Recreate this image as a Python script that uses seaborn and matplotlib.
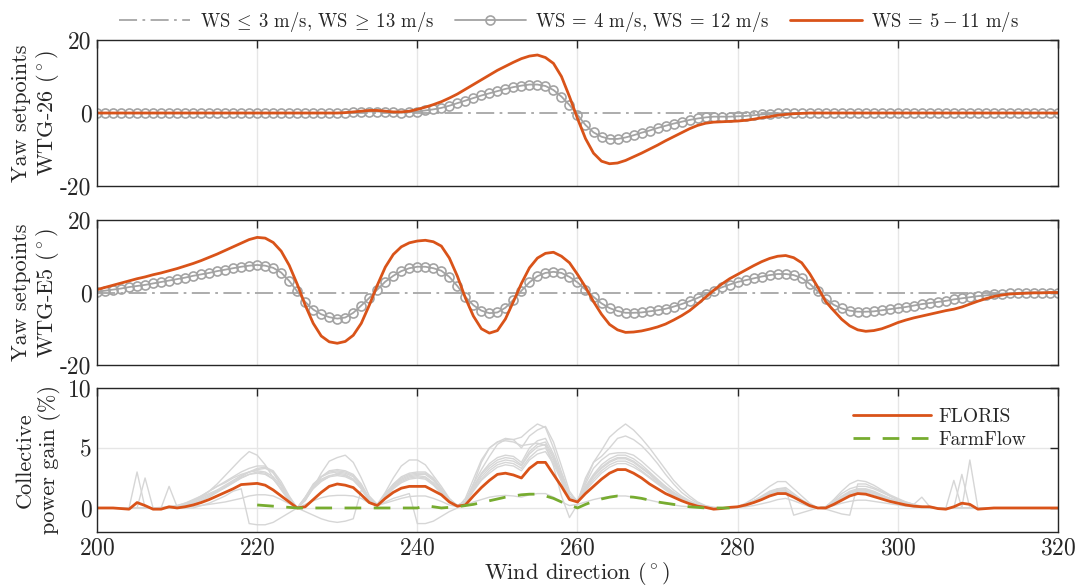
import matplotlib
matplotlib.use("Agg")
import matplotlib.pyplot as plt
import seaborn as sns

# Wind directions (deg), one value per degree
wind_dir = list(range(200, 321))

# Yaw setpoints WTG-26 (deg)
yaw26_off = [0.0] * len(wind_dir)
yaw26_low = [
    0, 0, 0, 0, 0, 0, 0, 0, 0, 0, 0,
    0, 0, 0, 0, 0, 0, 0, 0, 0, 0, 0,
    0, 0, 0, 0, 0, 0, 0, 0, 0, 0.1, 0.2,
    0.3, 0.4, 0.4, 0.3, 0.2, 0.1, 0.2, 0.4, 0.7, 1.0, 1.4,
    2.0, 2.7, 3.4, 4.1, 4.8, 5.4, 6.0, 6.6, 7.1, 7.5, 7.8,
    7.8, 7.4, 6.3, 4.5, 2.2, -0.5, -3.3, -5.3, -6.5, -7.1, -7.1,
    -6.7, -6.1, -5.4, -4.8, -4.1, -3.5, -2.9, -2.4, -1.9, -1.5, -1.2,
    -1.0, -1.0, -1.0, -0.9, -0.8, -0.6, -0.4, -0.3, -0.1, 0, 0,
    0, 0, 0, 0, 0, 0, 0, 0, 0, 0, 0,
    0, 0, 0, 0, 0, 0, 0, 0, 0, 0, 0,
    0, 0, 0, 0, 0, 0, 0, 0, 0, 0, 0,
]
yaw26_mid = [
    0, 0, 0, 0, 0, 0, 0, 0, 0, 0, 0,
    0, 0, 0, 0, 0, 0, 0, 0, 0, 0, 0,
    0, 0, 0, 0, 0, 0, 0, 0, 0, 0.1, 0.3,
    0.5, 0.7, 0.7, 0.5, 0.3, 0.3, 0.5, 1.0, 1.6, 2.3, 3.1,
    4.1, 5.2, 6.5, 7.8, 9.1, 10.4, 11.7, 12.8, 13.9, 14.9, 15.6,
    15.9, 15.2, 13.6, 10.0, 4.5, -1.5, -7.0, -11.0, -13.2, -13.9, -13.7,
    -13.0, -12.0, -11.0, -9.9, -8.8, -7.6, -6.5, -5.4, -4.3, -3.4, -2.8,
    -2.5, -2.4, -2.3, -2.2, -2.0, -1.7, -1.3, -1.0, -0.6, -0.4, -0.2,
    -0.1, 0, 0, 0, 0, 0, 0, 0, 0, 0, 0,
    0, 0, 0, 0, 0, 0, 0, 0, 0, 0, 0,
    0, 0, 0, 0, 0, 0, 0, 0, 0, 0, 0,
]

# Yaw setpoints WTG-E5 (deg)
yawE5_off = [0.0] * len(wind_dir)
yawE5_low = [
    0.2, 0.5, 0.8, 1.1, 1.5, 1.8, 2.1, 2.5, 2.9, 3.3, 3.7,
    4.1, 4.6, 5.0, 5.4, 5.9, 6.3, 6.7, 7.1, 7.4, 7.6, 7.4,
    6.8, 5.5, 3.2, 0.3, -2.6, -4.7, -6.0, -6.8, -7.2, -6.9, -5.6,
    -3.6, -1.5, 0.8, 3.0, 4.6, 5.9, 6.7, 7.1, 7.1, 6.7, 6.0,
    4.3, 1.8, -1.2, -3.5, -5.0, -5.7, -5.5, -4.2, -2.0, 0.5, 2.8,
    4.5, 5.4, 5.7, 5.4, 4.3, 2.8, 0.8, -1.2, -3.0, -4.3, -5.1,
    -5.6, -5.6, -5.5, -5.2, -4.9, -4.5, -3.9, -3.2, -2.4, -1.5, -0.5,
    0.5, 1.4, 2.2, 2.9, 3.4, 3.9, 4.4, 4.8, 5.1, 5.1, 4.8,
    4.0, 2.4, 0.3, -1.8, -3.4, -4.4, -5.0, -5.3, -5.3, -5.2, -4.9,
    -4.6, -4.3, -4.0, -3.6, -3.2, -2.9, -2.6, -2.3, -1.9, -1.6, -1.3,
    -1.0, -0.8, -0.5, -0.3, -0.2, -0.1, 0, 0, 0, 0, 0,
]
yawE5_mid = [
    0.8, 1.4, 2.0, 2.6, 3.2, 3.8, 4.3, 4.9, 5.4, 6.0, 6.6,
    7.3, 8.0, 8.8, 9.7, 10.6, 11.6, 12.6, 13.6, 14.6, 15.2, 15.0,
    13.8, 11.4, 7.5, 2.3, -3.5, -8.5, -12.0, -13.6, -14.0, -13.5, -11.8,
    -8.5, -3.5, 2.0, 7.0, 10.5, 12.6, 13.7, 14.2, 14.4, 14.0, 12.8,
    9.5, 4.5, -1.5, -6.5, -10.0, -11.2, -10.5, -7.3, -2.5, 2.5, 6.8,
    9.5, 10.8, 11.1, 10.0, 8.2, 5.0, 1.5, -2.5, -6.0, -8.8, -10.3,
    -11.0, -10.9, -10.6, -10.1, -9.5, -8.7, -7.6, -6.4, -5.0, -3.2, -1.3,
    0.6, 2.3, 3.8, 5.0, 6.2, 7.4, 8.5, 9.4, 10.0, 10.2, 9.6,
    8.2, 5.2, 1.5, -2.5, -5.0, -7.4, -9.2, -10.3, -10.7, -10.5, -10.0,
    -9.2, -8.3, -7.6, -7.0, -6.5, -6.0, -5.5, -5.0, -4.6, -4.0, -3.2,
    -2.4, -1.7, -1.1, -0.7, -0.4, -0.3, -0.2, -0.1, -0.1, 0, 0,
]

# Collective power gain (%), one series per wind speed
gain_ws = [
    [0, 0, 0, 0, 0, 0, 0, 0, 0, 0, 0,
     0.2, 0.5, 0.9, 1.4, 2.0, 2.7, 3.4, 4.1, 4.7, 4.4, 3.6,
     2.5, 1.5, 0.6, 0.0, 0.6, 1.7, 2.9, 3.9, 4.2, 4.4, 3.8,
     2.5, 1.0, 0.3, 1.3, 2.5, 3.5, 4.0, 4.0, 3.6, 2.7, 1.8,
     0.8, 0.2, 0.6, 2.0, 3.8, 5.0, 5.5, 5.8, 5.7, 5.9, 6.5,
     7.0, 6.7, 5.0, 3.0, 1.2, 0.6, 2.2, 3.8, 4.8, 5.9, 6.5,
     7.0, 6.5, 5.8, 5.0, 4.1, 3.2, 2.3, 1.6, 1.0, 0.5, 0.2,
     0.05, 0, 0, 0.1, 0.4, 0.8, 1.3, 1.8, 2.2, 2.2, 1.6,
     1.0, 0.4, 0, 0.1, 0.7, 1.4, 2.0, 2.3, 2.2, 1.9, 1.5,
     1.1, 0.8, 0.5, 0.3, 0.15, 0.05, 0, 0, 0, 0, 0,
     0, 0, 0, 0, 0, 0, 0, 0, 0, 0, 0],
    [0, 0, 0, 0, 0, 0, 0, 0, 0, 0, 0.1,
     0.3, 0.6, 1.0, 1.4, 1.8, 2.2, 2.6, 3.0, 3.3, 3.5, 3.5,
     2.9, 1.9, 0.8, 0.0, 0.8, 1.8, 2.6, 3.1, 3.2, 3.1, 2.8,
     2.0, 0.8, 0.3, 1.2, 2.0, 2.6, 2.9, 3.0, 3.0, 2.5, 1.6,
     0.7, 0.2, 0.5, 2.0, 3.2, 4.3, 5.3, 5.7, 5.7, 5.0, 6.0,
     6.5, 6.8, 5.5, 3.5, 1.4, 0.5, 2.5, 3.8, 4.3, 5.0, 5.8,
     6.0, 5.7, 5.2, 4.5, 3.7, 2.8, 2.0, 1.3, 0.8, 0.4, 0.15,
     0.05, 0, 0, 0.1, 0.3, 0.6, 1.0, 1.4, 1.6, 1.7, 1.2,
     0.7, 0.3, 0, 0.1, 0.6, 1.2, 1.6, 1.8, 1.8, 1.6, 1.3,
     1.0, 0.7, 0.5, 0.3, 0.9, 0.1, 0, 0, 0, 0, 0,
     0, 0, 0, 0, 0, 0, 0, 0, 0, 0, 0],
    [0, 0, 0, 0, 0, 3.0, 0, 0, 0.05, 0.1, 0.2,
     0.4, 0.7, 1.0, 1.4, 1.8, 2.1, 2.5, 2.8, 3.0, 3.2, 3.3,
     3.0, 2.0, 0.9, 0.0, 0.9, 2.0, 2.6, 2.9, 3.0, 2.9, 2.6,
     1.8, 0.7, 0.2, 1.1, 1.9, 2.4, 2.7, 2.8, 2.8, 2.3, 1.5,
     0.6, 0.2, 0.5, 1.8, 2.9, 3.7, 4.2, 4.4, 4.3, 3.8, 5.0,
     5.6, 5.8, 4.5, 2.8, 1.0, 0.6, 1.8, 2.8, 3.6, 4.1, 4.4,
     4.4, 4.1, 3.6, 3.0, 2.4, 1.8, 1.3, 0.9, 0.5, 0.2, 0.05,
     0, 0, 0, 0.1, 0.3, 0.6, 0.9, 1.2, 1.5, 1.5, 1.1,
     0.6, 0.2, 0, 0.1, 0.5, 1.0, 1.4, 1.6, 1.6, 1.4, 1.1,
     0.8, 0.6, 0.4, 0.2, 0.1, 0.05, 0, 0, 2.3, 0, 0,
     0, 0, 0, 0, 0, 0, 0, 0, 0, 0, 0],
    [0, 0, 0, 0, 0, 0, 2.5, 0, 0, 0.1, 0.2,
     0.4, 0.6, 0.9, 1.2, 1.5, 1.9, 2.3, 2.7, 3.0, 3.1, 3.0,
     2.6, 1.8, 0.8, 0.0, 0.8, 1.8, 2.4, 2.7, 2.8, 2.7, 2.4,
     1.7, 0.7, 0.2, 1.0, 1.8, 2.3, 2.6, 2.7, 2.6, 2.1, 1.4,
     0.6, 0.2, 0.5, 1.6, 2.6, 3.3, 3.8, 4.0, 3.9, 3.5, 4.5,
     5.1, 5.3, 4.1, 2.5, 0.9, 0.5, 1.6, 2.6, 3.3, 3.8, 4.1,
     4.1, 3.8, 3.3, 2.8, 2.2, 1.7, 1.2, 0.8, 0.45, 0.2, 0.05,
     0, 0, 0, 0.1, 0.3, 0.5, 0.8, 1.1, 1.4, 1.4, 1.0,
     0.6, 0.2, 0, 0.1, 0.4, 0.9, 1.3, 1.5, 1.5, 1.3, 1.0,
     0.8, 0.5, 0.35, 0.2, 0.1, 0.05, 0, 0, 0, 2.8, 0,
     0, 0, 0, 0, 0, 0, 0, 0, 0, 0, 0],
    [0, 0, 0, 0, 0, 0, 0, 0, 0, 1.8, 0.1,
     0.3, 0.5, 0.8, 1.1, 1.4, 1.7, 2.1, 2.5, 2.8, 2.9, 2.8,
     2.4, 1.6, 0.7, 0.0, 0.7, 1.7, 2.3, 2.6, 2.7, 2.6, 2.3,
     1.6, 0.6, 0.2, 0.9, 1.7, 2.2, 2.5, 2.6, 2.5, 2.0, 1.3,
     0.5, 0.2, 0.4, 1.5, 2.4, 3.1, 3.6, 3.8, 3.7, 3.3, 4.2,
     4.8, 5.0, 3.9, 2.4, 0.8, 0.5, 1.5, 2.4, 3.1, 3.6, 3.9,
     3.9, 3.6, 3.1, 2.6, 2.1, 1.6, 1.1, 0.7, 0.4, 0.15, 0.05,
     0, 0, 0, 0.1, 0.25, 0.5, 0.75, 1.0, 1.3, 1.3, 0.95,
     0.55, 0.2, 0, 0.1, 0.4, 0.8, 1.2, 1.4, 1.4, 1.2, 1.0,
     0.7, 0.5, 0.3, 0.2, 0.1, 0.05, 0, 0, 0, 0, 4.0,
     0, 0, 0, 0, 0, 0, 0, 0, 0, 0, 0],
    [0, 0, 0, 0, 0, 0, 0, 0, 0, 0, 0,
     0.1, 0.3, 0.6, 0.9, 1.3, 1.7, 2.1, 2.5, 2.8, 3.0, 2.9,
     2.4, 1.6, 0.7, 0, 0.7, 1.6, 2.2, 2.6, 2.9, 2.8, 2.4,
     1.6, 0.6, 0.2, 0.9, 1.6, 2.1, 2.4, 2.5, 2.4, 1.9, 1.2,
     0.5, 0.2, 0.4, 1.4, 2.3, 2.9, 3.4, 3.6, 3.5, 3.1, 4.0,
     4.5, 4.7, 3.7, 2.2, 0.7, 0.5, 1.4, 2.2, 2.9, 3.4, 3.7,
     3.7, 3.4, 3.0, 2.5, 2.0, 1.5, 1.0, 0.65, 0.35, 0.15, 0.05,
     0, 0, 0, 0.1, 0.2, 0.45, 0.7, 1.0, 1.2, 1.2, 0.9,
     0.5, 0.2, 0, 0.1, 0.35, 0.75, 1.1, 1.3, 1.3, 1.1, 0.9,
     0.65, 0.45, 0.3, 0.15, 0.1, 0.05, 0, 0, 0, 0, 0,
     0, 0, 0, 0, 0, 0, 0, 0, 0, 0, 0],
    [0, 0, 0, 0, 0, 0, 0, 0, 0, 0, 0.05,
     0.1, 0.15, 0.2, 0.3, 0.4, 0.5, 0.65, 0.8, 1.0, 1.1, 1.1,
     1.0, 0.7, 0.35, 0.0, 0.3, 0.6, 0.85, 1.0, 1.05, 1.05, 1.0,
     0.8, 0.4, 0.2, 0.4, 0.6, 0.8, 0.95, 1.0, 1.0, 0.8, 0.55,
     0.25, 0.1, 0.2, 0.5, 0.7, 0.9, 1.0, 1.05, 1.0, 0.9, 1.1,
     1.2, 1.2, 0.9, 0.5, 0.2, 0.3, 0.5, 0.7, 0.85, 0.95, 1.0,
     1.0, 0.9, 0.8, 0.65, 0.5, 0.35, 0.25, 0.15, 0.1, 0.05, 0,
     0, 0, 0, 0.05, 0.1, 0.2, 0.35, 0.5, 0.7, 0.8, 0.6,
     0.35, 0.1, 0, 0.05, 0.2, 0.4, 0.55, 0.65, 0.65, 0.55, 0.45,
     0.35, 0.25, 0.15, 0.1, 0.05, 0, 0, 0, 0, 0, 0,
     0, 0, 0, 0, 0, 0, 0, 0, 0, 0, 0],
    [0, 0, 0, 0, 0, 0, 0, 0, 0, 0, 0,
     0, 0, 0.2, 0.4, 0.7, 1.0, 1.4, 1.6, -1.3, -1.4, -1.4,
     -1.2, -0.8, -0.4, 0.0, -0.3, -0.6, -0.9, -1.1, -1.2, -1.1, -0.9,
     1.5, 0.8, 0.2, 0.5, 0.8, 1.0, 1.2, -1.3, -1.3, -1.1, -0.7,
     -0.3, 0.0, 0.8, 2.4, 4.0, 5.0, 5.5, 5.6, 5.5, 5.2, 5.3,
     5.4, 5.2, 3.5, 1.0, -0.8, 0.3, 2.0, 3.3, 4.0, 4.5, 4.6,
     4.6, 4.4, 3.9, 3.3, 2.7, 2.1, 1.5, 1.0, 0.6, 0.3, 0.1,
     0, 0, 0, 0.1, 0.3, 0.6, 0.9, 1.3, 1.6, 1.6, -0.6,
     -0.4, -0.2, 0, -0.1, -0.3, -0.5, -0.6, 2.0, 2.0, 1.7, 1.4,
     1.0, 0.7, 0.4, 0.2, 0.1, 0.05, 0, 0, 0, 0, 0,
     0, 0, 0, 0, 0, 0, 0, 0, 0, 0, 0],
    [0, 0, 0, 0, 0, 0, 0, 0, 0, 0, 0,
     0.2, 0.4, 0.7, 1.0, 1.4, 1.8, 2.2, 2.6, 3.0, 3.3, 3.4,
     3.1, 2.2, 1.0, 0, 0.9, 1.9, 2.6, 3.0, 3.1, 3.0, 2.7,
     1.9, 0.8, 0.2, 1.1, 1.9, 2.5, 2.8, 2.9, 2.9, 2.4, 1.6,
     0.7, 0.2, 0.5, 1.7, 2.8, 3.5, 4.0, 4.2, 4.1, 3.6, 4.7,
     5.3, 5.5, 4.3, 2.6, 0.9, 0.6, 1.7, 2.7, 3.4, 3.9, 4.2,
     4.2, 3.9, 3.4, 2.9, 2.3, 1.8, 1.3, 0.85, 0.5, 0.2, 0.05,
     0, 0, 0, 0.1, 0.3, 0.55, 0.85, 1.15, 1.45, 1.45, 1.05,
     0.6, 0.2, 0, 0.1, 0.45, 0.9, 1.3, 1.5, 1.5, 1.3, 1.05,
     0.8, 0.55, 0.35, 0.2, 0.1, 0.05, 0, 0, 0, 0, 0,
     0, 0, 0, 0, 0, 0, 0, 0, 0, 0, 0],
]

gain_floris = [
    0, 0, 0, -0.05, -0.1, 0.45, 0.2, -0.1, -0.1, 0.1, 0,
    0.1, 0.25, 0.45, 0.7, 1.0, 1.3, 1.6, 1.95, 2.0, 2.05, 1.9,
    1.5, 1.0, 0.5, 0.0, 0.1, 0.7, 1.3, 1.8, 2.0, 1.9, 1.7,
    1.1, 0.45, 0.2, 0.8, 1.3, 1.65, 1.8, 1.8, 1.8, 1.45, 1.1,
    0.5, 0.15, 0.25, 1.0, 1.7, 2.3, 2.8, 2.9, 2.75, 2.5, 3.3,
    3.8, 3.8, 2.8, 1.8, 0.7, 0.5, 1.2, 1.8, 2.4, 2.9, 3.2,
    3.2, 2.9, 2.5, 2.0, 1.6, 1.2, 0.9, 0.6, 0.35, 0.15, 0.05,
    -0.1, -0.05, 0.05, 0.1, 0.25, 0.45, 0.7, 1.0, 1.2, 1.2, 0.9,
    0.55, 0.2, 0, 0, 0.3, 0.65, 1.0, 1.2, 1.15, 0.95, 0.75,
    0.55, 0.4, 0.25, 0.15, 0.1, 0.1, -0.05, -0.1, 0.1, 0.4, 0.3,
    -0.1, -0.05, 0, 0, 0, 0, 0, 0, 0, 0, 0,
]

farmflow_dir = list(range(220, 280))
gain_farmflow = [
    0.25, 0.2, 0.15, 0.1, 0.05, 0.0, 0.0, 0.0, 0.0, 0.0,
    0.0, 0.0, 0.0, 0.0, 0.0, 0.0, 0.0, 0.0, 0.0, 0.0,
    0.0, 0.2, 0.1, 0.0, 0.05, 0.1, 0.2, 0.3, 0.45, 0.6,
    0.75, 0.9, 1.0, 1.1, 1.15, 1.15, 1.0, 0.8, 0.5, 0.25,
    0.0, 0.3, 0.55, 0.75, 0.9, 1.0, 0.95, 0.9, 0.8, 0.65,
    0.5, 0.4, 0.3, 0.2, 0.1, 0.05, 0.0, 0.0, 0.0, 0.0,
]

x_ticks = [200, 220, 240, 260, 280, 300, 320]
yaw_ticks = [-20, 0, 20]
gain_ticks = [0, 5, 10]

legend_labels = [r"$\mathrm{WS}\:\leq\:3$ m/s, $\mathrm{WS}\:\geq\:13$ m/s",
                 r"$\mathrm{WS}\:=\:4$ m/s, $\mathrm{WS}\:=\:12$ m/s",
                 r"$\mathrm{WS}\:=\:5\:-\:11$ m/s"]

ORANGE = "#D95319"
GREEN = "#77AC30"
GREY = "#a3a3a3"
DARK = "#262626"


def style_axes(ax, yticks):
    ax.set_xlim(200, 320)
    ax.set_xticks(x_ticks)
    ax.set_yticks(yticks)
    ax.set_yticklabels([str(t) for t in yticks])
    ax.grid(axis="x", color="#e6e6e6", linewidth=1)
    ax.set_axisbelow(True)
    ax.tick_params(direction="in", length=6, width=1, color=DARK,
                   labelcolor=DARK, labelsize=17, top=True, right=True, pad=4)
    for s in ax.spines.values():
        s.set_color(DARK)
        s.set_linewidth(1.0)
        s.set_visible(True)
    ax.set_xlabel("")


def main():
    sns.set_style("white")
    plt.rcParams["font.family"] = ["cmr10", "DejaVu Serif"]
    plt.rcParams["mathtext.fontset"] = "cm"
    plt.rcParams["axes.unicode_minus"] = False
    plt.rcParams["axes.formatter.use_mathtext"] = True

    fig = plt.figure(figsize=(10.78, 5.86), dpi=100)
    ax1 = fig.add_axes([0.090, 0.6826, 0.8914, 0.2491])
    ax2 = fig.add_axes([0.090, 0.3771, 0.8914, 0.2475])
    ax3 = fig.add_axes([0.090, 0.0922, 0.8914, 0.2457])

    handles = []
    for ax, off, low, mid, name in [(ax1, yaw26_off, yaw26_low, yaw26_mid, "WTG-26"),
                                     (ax2, yawE5_off, yawE5_low, yawE5_mid, "WTG-E5")]:
        sns.lineplot(x=wind_dir, y=off, ax=ax, color="#a6a6a6", linewidth=1.3,
                     linestyle=(0, (10, 3, 1.5, 3)), label=legend_labels[0])
        sns.lineplot(x=wind_dir, y=low, ax=ax, color=GREY, linewidth=1.3,
                     marker="o", markersize=6.5, markerfacecolor="none",
                     markeredgecolor=GREY, markeredgewidth=1.2,
                     label=legend_labels[1])
        sns.lineplot(x=wind_dir, y=mid, ax=ax, color=ORANGE, linewidth=2.0,
                     label=legend_labels[2])
        ax.set_ylim(-20, 20)
        style_axes(ax, yaw_ticks)
        ax.tick_params(labelbottom=False)
        ax.set_ylabel("Yaw setpoints\n" + name + r" ($^\circ$)", fontsize=16,
                      color=DARK, linespacing=1.15)
        ax.yaxis.set_label_coords(-0.038, 0.5)
        if ax.get_legend() is not None:
            ax.get_legend().remove()
        if not handles:
            handles = ax.get_lines()[:3]

    fig.legend(handles, legend_labels, loc="upper center", bbox_to_anchor=(0.528, 1.012),
               ncol=3, frameon=False, fontsize=13.5, handlelength=3.8,
               columnspacing=1.1, handletextpad=0.5, numpoints=1)

    # Collective power gain
    for g in gain_ws:
        sns.lineplot(x=wind_dir, y=g, ax=ax3, color="#d6d6d6", linewidth=1.0)
    sns.lineplot(x=wind_dir, y=gain_floris, ax=ax3, color=ORANGE, linewidth=2.0,
                 label="FLORIS")
    sns.lineplot(x=farmflow_dir, y=gain_farmflow, ax=ax3, color=GREEN, linewidth=2.0,
                 dashes=False, linestyle=(0, (6, 4.5)), label="FarmFlow")
    ax3.set_ylim(-2, 10)
    style_axes(ax3, gain_ticks)
    ax3.grid(axis="y", color="#e6e6e6", linewidth=1)
    ax3.set_ylabel("Collective\npower gain (%)", fontsize=16, color=DARK, linespacing=1.15)
    ax3.yaxis.set_label_coords(-0.038, 0.5)
    ax3.set_xlabel(r"Wind direction ($^\circ$)", fontsize=16, color=DARK, labelpad=0)
    lines = ax3.get_lines()
    if ax3.get_legend() is not None:
        ax3.get_legend().remove()
    ax3.legend(lines[-2:], ["FLORIS", "FarmFlow"], loc="upper right",
               bbox_to_anchor=(0.985, 0.98), frameon=False, fontsize=14,
               handlelength=4.0, handletextpad=0.4, labelspacing=0.25)

    fig.savefig("out.png", dpi=100)


if __name__ == "__main__":
    main()
